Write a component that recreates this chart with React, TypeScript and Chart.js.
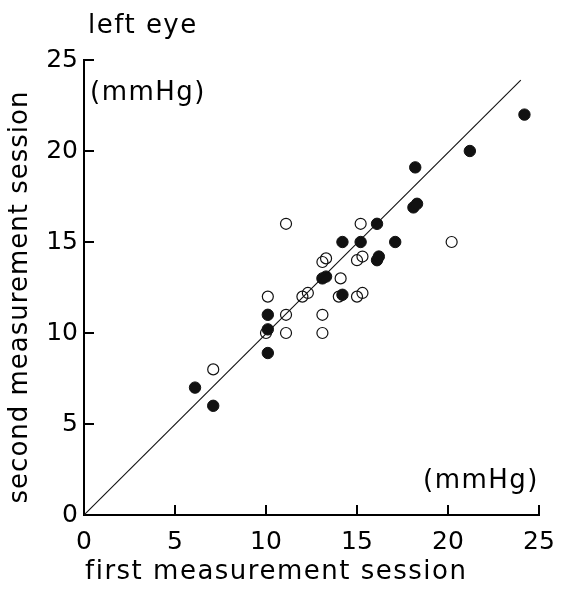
import React, { useEffect, useRef } from 'react';
import { Chart, registerables } from 'chart.js';
Chart.register(...registerables);

// open circles
const openX = [11.1, 15.2, 10.1, 11.1, 10.0, 11.1, 12.0, 12.3, 13.1, 13.3, 15.0, 15.3, 14.1, 14.0, 15.0, 15.3, 13.1, 13.1, 20.2, 7.1];
const openY = [16.0, 16.0, 12.0, 11.0, 10.0, 10.0, 12.0, 12.2, 13.9, 14.1, 14.0, 14.2, 13.0, 12.0, 12.0, 12.2, 11.0, 10.0, 15.0, 8.0];
// filled circles
const filledX = [6.1, 7.1, 10.1, 10.1, 10.1, 13.1, 13.3, 14.2, 15.2, 16.1, 16.1, 16.2, 17.1, 14.2, 18.1, 18.3, 18.2, 21.2, 24.2];
const filledY = [7.0, 6.0, 11.0, 10.2, 8.9, 13.0, 13.1, 15.0, 15.0, 16.0, 14.0, 14.2, 15.0, 12.1, 16.9, 17.1, 19.1, 20.0, 22.0];
// fitted line
const lineX = [0, 24];
const lineY = [0, 23.9];

const tickValues = [0, 5, 10, 15, 20, 25];
const xTitle = 'first measurement session';
const yTitle = 'second measurement session';
const panelTitle = 'left eye';
const unitLabel = '(mmHg)';

const FONT = '"DejaVu Sans", sans-serif';
const FS = 25;
const TFS = 26;

const pts = (xs: number[], ys: number[]) => xs.map((x, i) => ({ x, y: ys[i] }));

const decor = {
  id: 'decor',
  afterDraw(chart: any) {
    const { ctx, scales } = chart;
    const xs = scales.x;
    const ys = scales.y;
    const area = chart.chartArea;
    ctx.save();
    ctx.strokeStyle = '#000';
    ctx.lineWidth = 2;
    tickValues.forEach((v) => {
      if (v === 0) return;
      const px = xs.getPixelForValue(v);
      ctx.beginPath();
      ctx.moveTo(px, area.bottom);
      ctx.lineTo(px, area.bottom - 10);
      ctx.stroke();
      const py = ys.getPixelForValue(v);
      ctx.beginPath();
      ctx.moveTo(area.left, py);
      ctx.lineTo(area.left + 10, py);
      ctx.stroke();
    });
    ctx.fillStyle = '#000';
    ctx.font = `${TFS}px ${FONT}`;
    (ctx as any).letterSpacing = '1.5px';
    ctx.textBaseline = 'alphabetic';
    ctx.textAlign = 'left';
    ctx.fillText(panelTitle, 88, 33);
    ctx.textBaseline = 'middle';
    ctx.fillText(unitLabel, area.left + 6, ys.getPixelForValue(23.2));
    ctx.fillText(xTitle, area.left + 1, 572);
    ctx.textAlign = 'right';
    ctx.fillText(unitLabel, 539, ys.getPixelForValue(1.85));
    // y axis title
    (ctx as any).letterSpacing = '1px';
    ctx.translate(20, 297);
    ctx.rotate(-Math.PI / 2);
    ctx.textAlign = 'center';
    ctx.fillText(yTitle, 0, 0);
    ctx.restore();
  },
};

export default function App() {
  const ref = useRef<HTMLCanvasElement>(null);
  useEffect(() => {
    if (!ref.current) return;
    const chart = new Chart(ref.current, {
      type: 'scatter',
      data: {
        datasets: [
          {
            type: 'line',
            data: pts(lineX, lineY),
            borderColor: '#111',
            borderWidth: 1.1,
            pointRadius: 0,
            fill: false,
          } as any,
          {
            data: pts(openX, openY),
            pointRadius: 5.5,
            pointBackgroundColor: 'rgba(255,255,255,0)',
            pointBorderColor: '#111',
            pointBorderWidth: 1.2,
          },
          {
            data: pts(filledX, filledY),
            pointRadius: 5.7,
            pointBackgroundColor: '#111',
            pointBorderColor: '#111',
            pointBorderWidth: 1,
          },
        ],
      },
      options: {
        animation: false,
        responsive: false,
        maintainAspectRatio: false,
        layout: { autoPadding: false, padding: { top: 60, right: 22, left: 0, bottom: 0 } },
        plugins: { legend: { display: false }, tooltip: { enabled: false } },
        scales: {
          x: {
            type: 'linear',
            min: 0,
            max: 25,
            afterFit: (s: any) => { s.height = 81; s.paddingLeft = 0; s.paddingRight = 0; },
            border: { display: true, color: '#000', width: 2 },
            grid: { display: false, drawOnChartArea: false, drawTicks: false },
            ticks: { stepSize: 5, color: '#000', font: { family: FONT, size: FS }, padding: 12 },
            title: { display: false, text: xTitle },
          },
          y: {
            type: 'linear',
            min: 0,
            max: 25,
            afterFit: (s: any) => { s.width = 84; s.paddingTop = 0; s.paddingBottom = 0; },
            border: { display: true, color: '#000', width: 2 },
            grid: { display: false, drawOnChartArea: false, drawTicks: false },
            ticks: { stepSize: 5, color: '#000', font: { family: FONT, size: FS }, padding: 6 },
            title: { display: false, text: yTitle },
          },
        },
      },
      plugins: [decor],
    });
    return () => chart.destroy();
  }, []);
  return (
    <div style={{ position: 'fixed', left: 0, top: 0, width: 561, height: 596, background: '#fff' }}>
      <canvas ref={ref} width={561} height={596} style={{ display: 'block' }} />
    </div>
  );
}
